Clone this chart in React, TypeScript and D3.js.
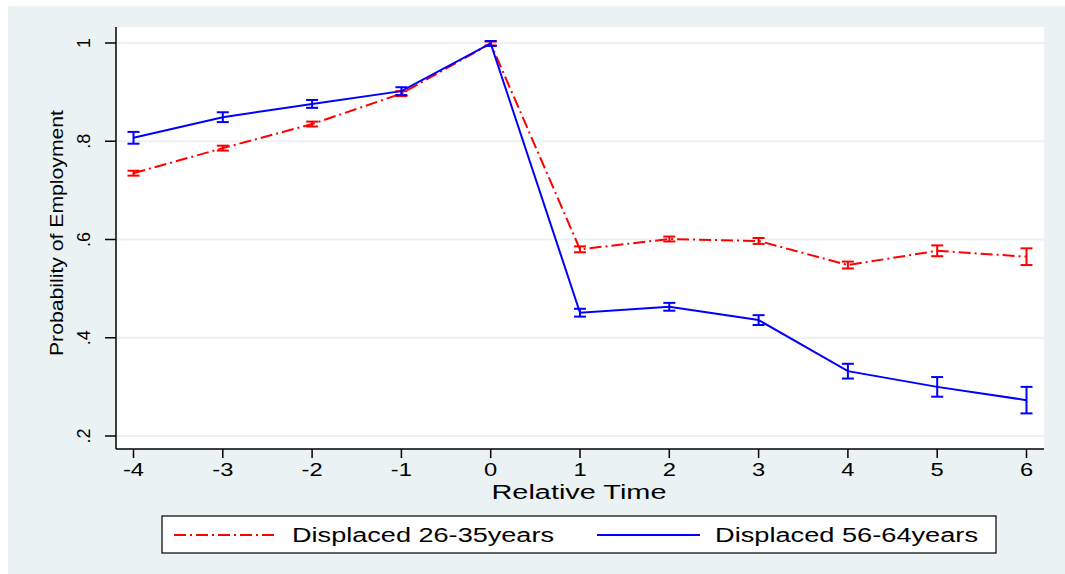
import React from 'react';
import * as d3 from 'd3';

const relTime = [-4, -3, -2, -1, 0, 1, 2, 3, 4, 5, 6];
const young = [0.735, 0.786, 0.835, 0.897, 0.999, 0.580, 0.601, 0.597, 0.548, 0.577, 0.565];
const youngErr = [0.005, 0.005, 0.005, 0.005, 0.004, 0.006, 0.005, 0.006, 0.007, 0.011, 0.017];
const old = [0.807, 0.849, 0.876, 0.902, 0.999, 0.451, 0.463, 0.436, 0.332, 0.300, 0.273];
const oldErr = [0.012, 0.010, 0.008, 0.008, 0.005, 0.008, 0.008, 0.010, 0.015, 0.020, 0.027];
const yTicks = [0.2, 0.4, 0.6, 0.8, 1];
const yTickLabels = ['.2', '.4', '.6', '.8', '1'];
const seriesNames = ['Displaced 26-35years', 'Displaced 56-64years'];

const W = 1065;
const H = 574;
const plot = { left: 116, right: 1044, top: 27, bottom: 449 };
const bg = '#eaf2f3';
const font = '"Liberation Sans", Arial, sans-serif';

const App: React.FC = () => {
  const x = d3.scaleLinear().domain([-4, 6]).range([133.5, 1026.5]);
  const y = d3.scaleLinear().domain([0.2, 1]).range([436, 43]);

  const line = d3
    .line<number>()
    .x((_, i) => x(relTime[i]))
    .y(d => y(d));

  const series = [
    { vals: young, err: youngErr, color: '#ff0000', dash: '12,4,2,4' },
    { vals: old, err: oldErr, color: '#0000ff', dash: undefined },
  ];

  return (
    <svg
      width={W}
      height={H}
      style={{ position: 'absolute', left: 0, top: 0 }}
      fontFamily={font}
    >
      <rect x={0} y={0} width={W} height={H} fill="#ffffff" />
      <rect x={8} y={6} width={W - 8} height={H - 6} fill={bg} />
      <rect
        x={plot.left}
        y={plot.top}
        width={plot.right - plot.left}
        height={plot.bottom - plot.top}
        fill="#ffffff"
      />

      {/* grid */}
      {yTicks.map(t => (
        <line key={t} x1={plot.left} x2={plot.right} y1={y(t)} y2={y(t)} stroke={bg} strokeWidth={2} />
      ))}

      {/* series */}
      {series.map((s, k) => (
        <g key={k} stroke={s.color} fill="none">
          <path d={line(s.vals)!} strokeWidth={2} strokeDasharray={s.dash} />
          {s.vals.map((v, i) => {
            const cx = x(relTime[i]);
            const y0 = y(v - s.err[i]);
            const y1 = y(v + s.err[i]);
            return (
              <g key={i} strokeWidth={2}>
                <line x1={cx} x2={cx} y1={y0} y2={y1} />
                <line x1={cx - 6} x2={cx + 6} y1={y0} y2={y0} />
                <line x1={cx - 6} x2={cx + 6} y1={y1} y2={y1} />
              </g>
            );
          })}
        </g>
      ))}

      {/* y axis */}
      <line x1={plot.left} x2={plot.left} y1={plot.top} y2={plot.bottom} stroke="#000" strokeWidth={1.5} />
      {yTicks.map((t, i) => (
        <g key={t}>
          <line x1={plot.left - 11} x2={plot.left} y1={y(t)} y2={y(t)} stroke="#000" strokeWidth={1.5} />
          <text
            transform={`translate(90,${y(t)}) rotate(-90)`}
            textAnchor="middle"
            fontSize={18}
            fill="#000"
          >
            {yTickLabels[i]}
          </text>
        </g>
      ))}
      <text
        transform={`translate(63,233) rotate(-90)`}
        textAnchor="middle"
        fontSize={18}
        textLength={246}
        lengthAdjust="spacingAndGlyphs"
        fill="#000"
      >
        Probability of Employment
      </text>

      {/* x axis */}
      <line x1={plot.left} x2={plot.right} y1={plot.bottom} y2={plot.bottom} stroke="#000" strokeWidth={1.5} />
      {relTime.map(t => (
        <g key={t}>
          <line x1={x(t)} x2={x(t)} y1={plot.bottom} y2={plot.bottom + 9} stroke="#000" strokeWidth={1.5} />
          <text
            transform={`translate(${x(t)},476) scale(1.25,1)`}
            textAnchor="middle"
            fontSize={19}
            fill="#000"
          >
            {t}
          </text>
        </g>
      ))}
      <text
        x={579}
        y={499}
        textAnchor="middle"
        fontSize={20}
        textLength={175}
        lengthAdjust="spacingAndGlyphs"
        fill="#000"
      >
        Relative Time
      </text>

      {/* legend */}
      <rect x={162} y={516} width={834} height={37} fill="#ffffff" stroke="#000" strokeWidth={1.2} />
      <line x1={174} x2={275} y1={535} y2={535} stroke="#ff0000" strokeWidth={2} strokeDasharray="12,4,2,4" />
      <text x={292} y={542} fontSize={20} textLength={262} lengthAdjust="spacingAndGlyphs" fill="#000">
        {seriesNames[0]}
      </text>
      <line x1={597} x2={700} y1={535} y2={535} stroke="#0000ff" strokeWidth={2} />
      <text x={715} y={542} fontSize={20} textLength={263} lengthAdjust="spacingAndGlyphs" fill="#000">
        {seriesNames[1]}
      </text>
    </svg>
  );
};

export default App;
